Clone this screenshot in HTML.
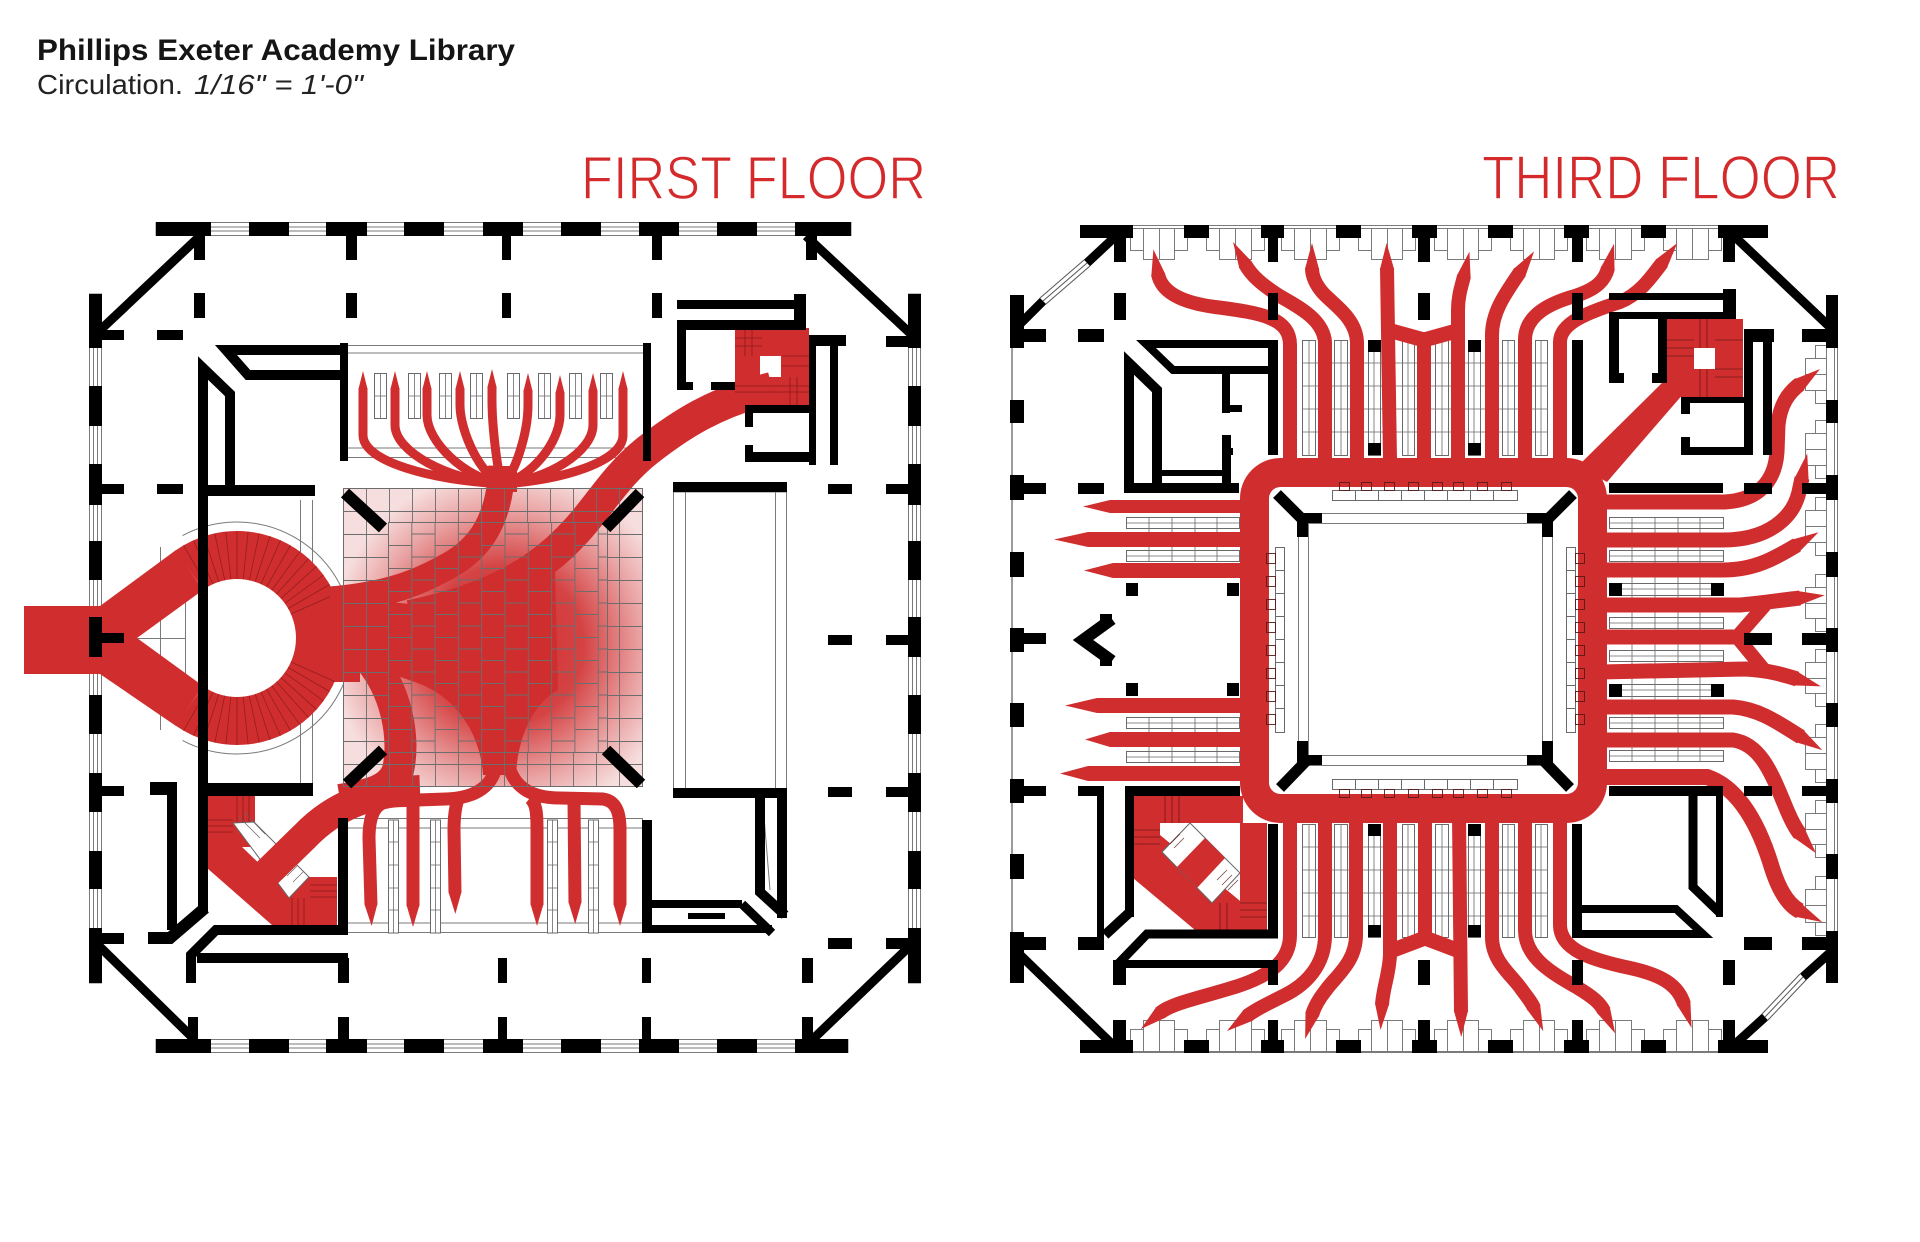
<!DOCTYPE html>
<html><head><meta charset="utf-8">
<style>html,body{margin:0;padding:0;background:#fff;}svg{display:block}</style>
</head><body>
<svg width="1920" height="1242" viewBox="0 0 1920 1242" xmlns="http://www.w3.org/2000/svg">
<defs>
<marker id="t14" markerUnits="userSpaceOnUse" viewBox="0 0 26 14" refX="1" refY="7" markerWidth="26" markerHeight="14" orient="auto"><path d="M0,0 L26,7 L0,14 Z" fill="#d02d2e"/></marker>
<marker id="t13" markerUnits="userSpaceOnUse" viewBox="0 0 22 13" refX="1" refY="6.5" markerWidth="22" markerHeight="13" orient="auto"><path d="M0,0 L22,6.5 L0,13 Z" fill="#d02d2e"/></marker>
<marker id="t9" markerUnits="userSpaceOnUse" viewBox="0 0 18 9" refX="1" refY="4.5" markerWidth="18" markerHeight="9" orient="auto"><path d="M0,0 L18,4.5 L0,9 Z" fill="#d02d2e"/></marker>
<radialGradient id="rg" cx="505" cy="645" r="175" gradientUnits="userSpaceOnUse">
<stop offset="0" stop-color="#d02d2e" stop-opacity="1"/>
<stop offset="0.45" stop-color="#d02d2e" stop-opacity="0.88"/>
<stop offset="0.78" stop-color="#d02d2e" stop-opacity="0.35"/>
<stop offset="1" stop-color="#d02d2e" stop-opacity="0.04"/>
</radialGradient>
<pattern id="grid" x="343" y="488" width="23" height="23" patternUnits="userSpaceOnUse"><path d="M0,0.5 H23 M0.5,0 V23" stroke="#6d6d6d" stroke-width="0.9" fill="none"/></pattern>
<pattern id="brick" x="388" y="522" width="46.6" height="23" patternUnits="userSpaceOnUse"><path d="M0.5,0 V23 M23.8,0 V23 M0,0.5 H23.3 M23.3,12 H46.6" stroke="#6d6d6d" stroke-width="0.9" fill="none"/></pattern>
<clipPath id="tileclip"><rect x="343" y="488" width="300" height="299"/></clipPath>
</defs>

<!-- TITLES -->
<text x="37" y="60" font-family="Liberation Sans, sans-serif" font-weight="bold" font-size="30" textLength="478" lengthAdjust="spacingAndGlyphs" fill="#151515">Phillips Exeter Academy Library</text>
<text x="37" y="94" font-family="Liberation Sans, sans-serif" font-size="28" textLength="146" lengthAdjust="spacingAndGlyphs" fill="#222">Circulation.</text>
<text x="194" y="94" font-family="Liberation Sans, sans-serif" font-style="italic" font-size="28" textLength="169" lengthAdjust="spacingAndGlyphs" fill="#222">1/16" = 1'-0"</text>
<text x="581" y="199" font-family="Liberation Sans, sans-serif" font-size="61" textLength="345" lengthAdjust="spacingAndGlyphs" fill="#d42a2c" stroke="#fff" stroke-width="1.4">FIRST FLOOR</text>
<text x="1482" y="199" font-family="Liberation Sans, sans-serif" font-size="62" textLength="358" lengthAdjust="spacingAndGlyphs" fill="#d42a2c" stroke="#fff" stroke-width="1.4">THIRD FLOOR</text>

<!-- ================= FIRST FLOOR ================= -->
<g id="ff-thin" fill="none" stroke="#7a7a7a" stroke-width="1">
  <rect x="156" y="222.5" width="695" height="13"/>
  <line x1="156" y1="227" x2="851" y2="227"/><line x1="156" y1="231" x2="851" y2="231"/>
  <rect x="156" y="1039.5" width="692" height="13"/>
  <line x1="156" y1="1044" x2="848" y2="1044"/><line x1="156" y1="1048" x2="848" y2="1048"/>
  <rect x="89.5" y="294" width="12" height="689"/>
  <line x1="93.5" y1="294" x2="93.5" y2="983"/><line x1="97.5" y1="294" x2="97.5" y2="983"/>
  <rect x="908.5" y="294" width="12" height="689"/>
  <line x1="912.5" y1="294" x2="912.5" y2="983"/><line x1="916.5" y1="294" x2="916.5" y2="983"/>
  <rect x="343.5" y="345.5" width="306" height="112"/>
  <line x1="343" y1="353" x2="650" y2="353"/><line x1="343" y1="448" x2="650" y2="448"/>
  <rect x="343.5" y="818.5" width="299" height="114"/>
  <line x1="343" y1="828" x2="642" y2="828"/><line x1="343" y1="923" x2="642" y2="923"/>
  <rect x="673.5" y="492" width="113" height="297"/>
  <line x1="685.5" y1="492" x2="685.5" y2="789"/><line x1="775.5" y1="492" x2="775.5" y2="789"/>
  <path d="M182.5,535.6 A116,116 0 1 1 182.5,740.4"/>
  <line x1="160.5" y1="547" x2="160.5" y2="730"/>
  <line x1="185.5" y1="590" x2="185.5" y2="688"/>
  <line x1="137" y1="638.5" x2="186" y2="638.5"/>
  <line x1="300.5" y1="500" x2="300.5" y2="783"/>
  <line x1="312.5" y1="500" x2="312.5" y2="783"/>
  <line x1="762.5" y1="798" x2="770" y2="890"/>
</g>
<g fill="#fff" stroke="#6a6a6a" stroke-width="1">
  <rect x="374.5" y="373.5" width="12" height="45"/><rect x="408.5" y="373.5" width="12" height="45"/>
  <rect x="439.5" y="373.5" width="12" height="45"/><rect x="470.5" y="373.5" width="12" height="45"/>
  <rect x="507.5" y="373.5" width="12" height="45"/><rect x="538.5" y="373.5" width="12" height="45"/>
  <rect x="569.5" y="373.5" width="12" height="45"/><rect x="600.5" y="373.5" width="12" height="45"/>
</g>
<g stroke="#6a6a6a" stroke-width="0.8">
  <path d="M380.5,374V418M414.5,374V418M445.5,374V418M476.5,374V418M513.5,374V418M544.5,374V418M575.5,374V418M606.5,374V418M374,396H387M408,396H421M439,396H452M470,396H483M507,396H520M538,396H551M569,396H582M600,396H613"/>
</g>
<g fill="#fff" stroke="#6a6a6a" stroke-width="1">
  <rect x="388.5" y="820" width="10" height="113"/><rect x="430.5" y="820" width="10" height="113"/>
  <rect x="547.5" y="820" width="10" height="113"/><rect x="588.5" y="820" width="10" height="113"/>
</g>
<g stroke="#6a6a6a" stroke-width="0.8">
  <path d="M393.5,820V933M435.5,820V933M552.5,820V933M593.5,820V933M388,842H399M388,865H399M388,888H399M388,910H399M430,842H441M430,865H441M430,888H441M430,910H441M547,842H558M547,865H558M547,888H558M547,910H558M588,842H599M588,865H599M588,888H599M588,910H599"/>
</g>

<!-- tile area base -->
<rect x="343" y="488" width="300" height="299" fill="#f8e5e5"/>
<rect x="343" y="488" width="300" height="299" fill="url(#rg)" clip-path="url(#tileclip)"/>

<!-- red: first floor -->
<g fill="#d02d2e">
  <polygon points="24,606 100,606 176,550 203,590 137,638 203,686 176,726 100,674 24,674"/>
  <path d="M330,596 L410,604 C470,600 520,585 555,572 L558,690 C534,703 518,735 516,775 L483,775 C481,740 462,703 425,686 C405,678 385,672 368,668 L330,684 Z"/>
  <rect x="320" y="598" width="40" height="84"/>
  <rect x="735" y="328" width="74" height="77"/>
  <rect x="207" y="796" width="48" height="51"/>
  <polygon points="207,845 240,845 302,905 302,925 272,925 207,868"/>
  <rect x="287" y="877" width="50" height="48"/>
</g>
<path d="M189.4,570 A83,83 0 1 1 189.4,706" fill="none" stroke="#d02d2e" stroke-width="48"/>
<g transform="translate(237,638)" stroke="#7a1818" stroke-width="0.8" stroke-opacity="0.7">
  <line x1="59" y1="0" x2="107" y2="0" transform="rotate(-120)"/><line x1="59" y1="0" x2="107" y2="0" transform="rotate(-114)"/>
  <line x1="59" y1="0" x2="107" y2="0" transform="rotate(-108)"/><line x1="59" y1="0" x2="107" y2="0" transform="rotate(-102)"/>
  <line x1="59" y1="0" x2="107" y2="0" transform="rotate(-96)"/><line x1="59" y1="0" x2="107" y2="0" transform="rotate(-90)"/>
  <line x1="59" y1="0" x2="107" y2="0" transform="rotate(-84)"/><line x1="59" y1="0" x2="107" y2="0" transform="rotate(-78)"/>
  <line x1="59" y1="0" x2="107" y2="0" transform="rotate(-72)"/><line x1="59" y1="0" x2="107" y2="0" transform="rotate(-66)"/>
  <line x1="59" y1="0" x2="107" y2="0" transform="rotate(-60)"/><line x1="59" y1="0" x2="107" y2="0" transform="rotate(-54)"/>
  <line x1="59" y1="0" x2="107" y2="0" transform="rotate(-48)"/><line x1="59" y1="0" x2="107" y2="0" transform="rotate(-42)"/>
  <line x1="59" y1="0" x2="107" y2="0" transform="rotate(-36)"/><line x1="59" y1="0" x2="107" y2="0" transform="rotate(-30)"/>
  <line x1="59" y1="0" x2="107" y2="0" transform="rotate(-24)"/><line x1="59" y1="0" x2="107" y2="0" transform="rotate(24)"/>
  <line x1="59" y1="0" x2="107" y2="0" transform="rotate(30)"/><line x1="59" y1="0" x2="107" y2="0" transform="rotate(36)"/>
  <line x1="59" y1="0" x2="107" y2="0" transform="rotate(42)"/><line x1="59" y1="0" x2="107" y2="0" transform="rotate(48)"/>
  <line x1="59" y1="0" x2="107" y2="0" transform="rotate(54)"/><line x1="59" y1="0" x2="107" y2="0" transform="rotate(60)"/>
  <line x1="59" y1="0" x2="107" y2="0" transform="rotate(66)"/><line x1="59" y1="0" x2="107" y2="0" transform="rotate(72)"/>
  <line x1="59" y1="0" x2="107" y2="0" transform="rotate(78)"/><line x1="59" y1="0" x2="107" y2="0" transform="rotate(84)"/>
  <line x1="59" y1="0" x2="107" y2="0" transform="rotate(90)"/><line x1="59" y1="0" x2="107" y2="0" transform="rotate(96)"/>
  <line x1="59" y1="0" x2="107" y2="0" transform="rotate(102)"/><line x1="59" y1="0" x2="107" y2="0" transform="rotate(108)"/>
  <line x1="59" y1="0" x2="107" y2="0" transform="rotate(114)"/><line x1="59" y1="0" x2="107" y2="0" transform="rotate(120)"/>
</g>
<polygon points="233,823 254,822 309,877 289,898" fill="#fff" stroke="#666" stroke-width="1"/>
<g stroke="#666" stroke-width="0.7"><path d="M239,817L260,838M244,812L265,834M287,876L297,866M293,882L303,872"/></g>
<rect x="760" y="356" width="21" height="21" fill="#fff"/>

<g fill="none" stroke="#d02d2e" stroke-linecap="butt">
  <path d="M502,466 C500,520 480,548 450,565 C420,582 390,595 330,600" stroke-width="27"/>
  <path d="M502,466 L502,492" stroke-width="30"/>
  <path d="M772,388 C715,402 680,425 648,450 C615,476 598,508 575,532 C545,565 500,598 410,616" stroke-width="32"/>
  <path d="M366,655 C398,690 405,740 398,770 C392,790 370,795 340,800" stroke-width="32"/>
  <path d="M420,790 C370,792 335,805 305,836 L260,880" stroke-width="30"/>
  <path d="M502,484 C432,480 363,462 363,435 L363,388" stroke-width="9" marker-end="url(#t9)"/>
  <path d="M502,484 C448,480 395,452 395,425 L395,388" stroke-width="9" marker-end="url(#t9)"/>
  <path d="M502,484 C465,478 427,442 427,415 L427,388" stroke-width="9" marker-end="url(#t9)"/>
  <path d="M502,484 C481,476 460,432 460,405 L460,388" stroke-width="9" marker-end="url(#t9)"/>
  <path d="M502,484 C497,470 492,425 492,400 L492,386" stroke-width="9" marker-end="url(#t9)"/>
  <path d="M502,484 C515,476 528,432 528,405 L528,390" stroke-width="9" marker-end="url(#t9)"/>
  <path d="M502,484 C531,478 560,442 560,415 L560,392" stroke-width="9" marker-end="url(#t9)"/>
  <path d="M502,484 C547,480 593,452 593,425 L593,390" stroke-width="9" marker-end="url(#t9)"/>
  <path d="M502,484 C562,480 623,462 623,435 L623,388" stroke-width="9" marker-end="url(#t9)"/>
  <path d="M497,760 C495,786 476,798 446,799 L390,801 C376,802 369,814 369,838 L371,905" stroke-width="13" marker-end="url(#t13)"/>
  <path d="M413,800 L413,906" stroke-width="13" marker-end="url(#t13)"/>
  <path d="M458,799 C455,808 454,818 454,830 L455,893" stroke-width="13" marker-end="url(#t13)"/>
  <path d="M508,760 C511,786 530,798 560,798 L603,799 C616,801 620,812 620,830 L620,905" stroke-width="13" marker-end="url(#t13)"/>
  <path d="M530,798 C536,803 537,812 537,828 L537,905" stroke-width="13" marker-end="url(#t13)"/>
  <path d="M574,799 L575,903" stroke-width="13" marker-end="url(#t13)"/>
</g>
<g clip-path="url(#tileclip)">
  <rect x="343" y="488" width="300" height="34" fill="url(#grid)"/>
  <rect x="343" y="753" width="300" height="34" fill="url(#grid)"/>
  <rect x="343" y="522" width="45" height="231" fill="url(#grid)"/>
  <rect x="608" y="522" width="35" height="231" fill="url(#grid)"/>
  <rect x="388" y="522" width="220" height="231" fill="url(#brick)"/>
  <rect x="343.5" y="488.5" width="299" height="298" fill="none" stroke="#6d6d6d"/>
  <rect x="388.5" y="522.5" width="219" height="230" fill="none" stroke="#6d6d6d"/>
</g>
<g stroke="#7a1818" stroke-width="0.8" stroke-opacity="0.8">
  <path d="M735,338H762M735,346H762M735,386H809M735,392H809M782,356H809M782,366H809M745,328V356M752,328V356M790,377V405M797,377V405"/>
  <path d="M207,820H233M207,826H233M207,832H233M237,796V822M243,796V822M249,796V822M292,898V925M298,898V925M304,898V925M310,885H337M310,891H337M310,897H337"/>
</g>

<g fill="#000">
  <rect x="156" y="222" width="55" height="14"/><rect x="249" y="222" width="40" height="14"/><rect x="326" y="222" width="41" height="14"/>
  <rect x="404" y="222" width="40" height="14"/><rect x="483" y="222" width="40" height="14"/><rect x="561" y="222" width="40" height="14"/>
  <rect x="639" y="222" width="40" height="14"/><rect x="717" y="222" width="40" height="14"/><rect x="795" y="222" width="56" height="14"/>
  <rect x="156" y="1039" width="55" height="14"/><rect x="249" y="1039" width="40" height="14"/><rect x="326" y="1039" width="41" height="14"/>
  <rect x="404" y="1039" width="40" height="14"/><rect x="483" y="1039" width="40" height="14"/><rect x="561" y="1039" width="40" height="14"/>
  <rect x="639" y="1039" width="40" height="14"/><rect x="717" y="1039" width="40" height="14"/><rect x="795" y="1039" width="53" height="14"/>
  <rect x="89" y="294" width="13" height="54"/><rect x="89" y="386" width="13" height="40"/><rect x="89" y="464" width="13" height="41"/>
  <rect x="89" y="541" width="13" height="39"/><rect x="89" y="617" width="13" height="40"/><rect x="89" y="695" width="13" height="39"/>
  <rect x="89" y="773" width="13" height="39"/><rect x="89" y="851" width="13" height="38"/><rect x="89" y="928" width="13" height="55"/>
  <rect x="908" y="294" width="13" height="54"/><rect x="908" y="386" width="13" height="40"/><rect x="908" y="464" width="13" height="41"/>
  <rect x="908" y="541" width="13" height="39"/><rect x="908" y="617" width="13" height="40"/><rect x="908" y="695" width="13" height="39"/>
  <rect x="908" y="773" width="13" height="39"/><rect x="908" y="851" width="13" height="38"/><rect x="908" y="928" width="13" height="55"/>
  <rect x="194" y="236" width="11" height="24"/><rect x="346" y="236" width="11" height="24"/><rect x="502" y="236" width="9" height="24"/>
  <rect x="652" y="236" width="10" height="24"/><rect x="806" y="236" width="11" height="24"/>
  <rect x="194" y="293" width="11" height="25"/><rect x="346" y="293" width="11" height="25"/><rect x="502" y="293" width="9" height="25"/><rect x="652" y="293" width="10" height="25"/>
  <rect x="188" y="1017" width="10" height="22"/><rect x="338" y="1017" width="11" height="22"/><rect x="498" y="1017" width="9" height="22"/>
  <rect x="642" y="1017" width="9" height="22"/><rect x="802" y="1017" width="11" height="22"/>
  <rect x="338" y="958" width="11" height="25"/><rect x="498" y="958" width="9" height="25"/><rect x="642" y="958" width="9" height="25"/><rect x="802" y="958" width="11" height="25"/>
  <rect x="102" y="330" width="22" height="10"/><rect x="102" y="484" width="22" height="10"/><rect x="102" y="633" width="22" height="10"/>
  <rect x="102" y="786" width="22" height="10"/><rect x="102" y="933" width="22" height="11"/>
  <rect x="157" y="330" width="26" height="10"/><rect x="157" y="484" width="26" height="10"/>
  <rect x="886" y="336" width="22" height="11"/><rect x="886" y="484" width="22" height="10"/><rect x="886" y="635" width="22" height="10"/>
  <rect x="886" y="787" width="22" height="10"/><rect x="886" y="938" width="22" height="11"/>
  <rect x="828" y="484" width="24" height="10"/><rect x="828" y="635" width="24" height="10"/><rect x="828" y="787" width="24" height="10"/><rect x="828" y="938" width="24" height="11"/>
  <rect x="340" y="343" width="8" height="118"/><rect x="643" y="343" width="8" height="118"/>
  <rect x="200" y="485" width="115" height="11"/><rect x="200" y="783" width="113" height="13"/>
  <rect x="677" y="300" width="129" height="9"/><rect x="794" y="294" width="12" height="36"/><rect x="677" y="320" width="129" height="10"/>
  <rect x="677" y="320" width="9" height="70"/><rect x="677" y="382" width="16" height="8"/><rect x="711" y="382" width="24" height="8"/>
  <rect x="809" y="335" width="37" height="11"/><rect x="809" y="335" width="7" height="130"/><rect x="830" y="346" width="8" height="119"/>
  <rect x="745" y="405" width="64" height="8"/><rect x="745" y="405" width="8" height="22"/><rect x="745" y="452" width="68" height="10"/><rect x="745" y="445" width="8" height="17"/>
  <rect x="673" y="482" width="114" height="10"/><rect x="673" y="788" width="114" height="10"/><rect x="777" y="788" width="10" height="130"/>
  <rect x="642" y="820" width="10" height="113"/><rect x="652" y="900" width="90" height="8"/><rect x="642" y="925" width="130" height="8"/>
  <rect x="688" y="913" width="37" height="6"/>
  <rect x="338" y="818" width="10" height="115"/>
  <rect x="150" y="782" width="27" height="13"/><rect x="167" y="782" width="10" height="148"/>
  <rect x="197" y="953" width="151" height="10"/>
</g>
<g fill="none" stroke="#000" stroke-linecap="butt">
  <line x1="200" y1="236" x2="95" y2="335" stroke-width="9"/>
  <line x1="806" y1="236" x2="912" y2="335" stroke-width="9"/>
  <line x1="97" y1="944" x2="195" y2="1040" stroke-width="9"/>
  <line x1="912" y1="944" x2="812" y2="1040" stroke-width="9"/>
  <polyline points="347,350 226,350 248,375 342,375" stroke-width="10"/>
  <polyline points="203,913 203,368 230,394 230,488" stroke-width="10"/>
  <polyline points="760,798 760,892 785,915" stroke-width="10"/>
  <line x1="742" y1="904" x2="772" y2="933" stroke-width="9"/>
  <polyline points="148,938 170,938 205,908" stroke-width="12"/>
  <polyline points="191,983 191,955 216,930 348,930" stroke-width="10"/>
  <line x1="345" y1="493" x2="383" y2="528" stroke-width="12"/>
  <line x1="640" y1="493" x2="606" y2="528" stroke-width="12"/>
  <line x1="383" y1="750" x2="347" y2="784" stroke-width="12"/>
  <line x1="606" y1="750" x2="641" y2="784" stroke-width="12"/>
</g>

<!-- ================= THIRD FLOOR ================= -->
<g fill="none" stroke="#7a7a7a" stroke-width="1">
  <line x1="1080" y1="225.5" x2="1768" y2="225.5"/><line x1="1080" y1="228.5" x2="1768" y2="228.5"/>
  <line x1="1080" y1="1049.5" x2="1768" y2="1049.5"/><line x1="1080" y1="1052.5" x2="1768" y2="1052.5"/>
  <line x1="1012" y1="295" x2="1012" y2="983" stroke-width="1.5"/>
  <line x1="1837.5" y1="295" x2="1837.5" y2="983"/><line x1="1834.5" y1="295" x2="1834.5" y2="983"/>
</g>
<g fill="#fff" stroke="#7a7a7a" stroke-width="1">
  <rect x="1130.5" y="228.5" width="13" height="22"/><rect x="1143.5" y="228.5" width="16" height="31"/><rect x="1159.5" y="228.5" width="15" height="31"/><rect x="1174.5" y="228.5" width="13" height="22"/>
  <rect x="1206.5" y="228.5" width="13" height="22"/><rect x="1219.5" y="228.5" width="16" height="31"/><rect x="1235.5" y="228.5" width="16" height="31"/><rect x="1251.5" y="228.5" width="13" height="22"/>
  <rect x="1281.5" y="228.5" width="13" height="22"/><rect x="1294.5" y="228.5" width="16" height="31"/><rect x="1310.5" y="228.5" width="16" height="31"/><rect x="1326.5" y="228.5" width="13" height="22"/>
  <rect x="1358.5" y="228.5" width="13" height="22"/><rect x="1371.5" y="228.5" width="16" height="31"/><rect x="1387.5" y="228.5" width="15" height="31"/><rect x="1402.5" y="228.5" width="13" height="22"/>
  <rect x="1434.5" y="228.5" width="13" height="22"/><rect x="1447.5" y="228.5" width="16" height="31"/><rect x="1463.5" y="228.5" width="15" height="31"/><rect x="1478.5" y="228.5" width="13" height="22"/>
  <rect x="1510.5" y="228.5" width="13" height="22"/><rect x="1523.5" y="228.5" width="16" height="31"/><rect x="1539.5" y="228.5" width="15" height="31"/><rect x="1554.5" y="228.5" width="13" height="22"/>
  <rect x="1586.5" y="228.5" width="13" height="22"/><rect x="1599.5" y="228.5" width="16" height="31"/><rect x="1615.5" y="228.5" width="16" height="31"/><rect x="1631.5" y="228.5" width="13" height="22"/>
  <rect x="1663.5" y="228.5" width="13" height="22"/><rect x="1676.5" y="228.5" width="16" height="31"/><rect x="1692.5" y="228.5" width="16" height="31"/><rect x="1708.5" y="228.5" width="13" height="22"/>
  <rect x="1130.5" y="1029.5" width="13" height="22"/><rect x="1143.5" y="1020.5" width="16" height="31"/><rect x="1159.5" y="1020.5" width="15" height="31"/><rect x="1174.5" y="1029.5" width="13" height="22"/>
  <rect x="1206.5" y="1029.5" width="13" height="22"/><rect x="1219.5" y="1020.5" width="16" height="31"/><rect x="1235.5" y="1020.5" width="16" height="31"/><rect x="1251.5" y="1029.5" width="13" height="22"/>
  <rect x="1281.5" y="1029.5" width="13" height="22"/><rect x="1294.5" y="1020.5" width="16" height="31"/><rect x="1310.5" y="1020.5" width="16" height="31"/><rect x="1326.5" y="1029.5" width="13" height="22"/>
  <rect x="1358.5" y="1029.5" width="13" height="22"/><rect x="1371.5" y="1020.5" width="16" height="31"/><rect x="1387.5" y="1020.5" width="15" height="31"/><rect x="1402.5" y="1029.5" width="13" height="22"/>
  <rect x="1434.5" y="1029.5" width="13" height="22"/><rect x="1447.5" y="1020.5" width="16" height="31"/><rect x="1463.5" y="1020.5" width="15" height="31"/><rect x="1478.5" y="1029.5" width="13" height="22"/>
  <rect x="1510.5" y="1029.5" width="13" height="22"/><rect x="1523.5" y="1020.5" width="16" height="31"/><rect x="1539.5" y="1020.5" width="15" height="31"/><rect x="1554.5" y="1029.5" width="13" height="22"/>
  <rect x="1586.5" y="1029.5" width="13" height="22"/><rect x="1599.5" y="1020.5" width="16" height="31"/><rect x="1615.5" y="1020.5" width="16" height="31"/><rect x="1631.5" y="1029.5" width="13" height="22"/>
  <rect x="1663.5" y="1029.5" width="13" height="22"/><rect x="1676.5" y="1020.5" width="16" height="31"/><rect x="1692.5" y="1020.5" width="16" height="31"/><rect x="1708.5" y="1029.5" width="13" height="22"/>
  <rect x="1815.5" y="345.5" width="11" height="13"/><rect x="1805.5" y="358.5" width="21" height="16"/><rect x="1805.5" y="374.5" width="21" height="16"/><rect x="1815.5" y="390.5" width="11" height="13"/>
  <rect x="1815.5" y="420.5" width="11" height="13"/><rect x="1805.5" y="433.5" width="21" height="16"/><rect x="1805.5" y="449.5" width="21" height="16"/><rect x="1815.5" y="465.5" width="11" height="13"/>
  <rect x="1815.5" y="497.5" width="11" height="13"/><rect x="1805.5" y="510.5" width="21" height="16"/><rect x="1805.5" y="526.5" width="21" height="16"/><rect x="1815.5" y="542.5" width="11" height="13"/>
  <rect x="1815.5" y="574.5" width="11" height="13"/><rect x="1805.5" y="587.5" width="21" height="16"/><rect x="1805.5" y="603.5" width="21" height="15"/><rect x="1815.5" y="618.5" width="11" height="13"/>
  <rect x="1815.5" y="649.5" width="11" height="13"/><rect x="1805.5" y="662.5" width="21" height="16"/><rect x="1805.5" y="678.5" width="21" height="15"/><rect x="1815.5" y="693.5" width="11" height="13"/>
  <rect x="1815.5" y="724.5" width="11" height="13"/><rect x="1805.5" y="737.5" width="21" height="16"/><rect x="1805.5" y="753.5" width="21" height="16"/><rect x="1815.5" y="769.5" width="11" height="13"/>
  <rect x="1815.5" y="800.5" width="11" height="13"/><rect x="1805.5" y="813.5" width="21" height="16"/><rect x="1805.5" y="829.5" width="21" height="15"/><rect x="1815.5" y="844.5" width="11" height="13"/>
  <rect x="1815.5" y="876.5" width="11" height="13"/><rect x="1805.5" y="889.5" width="21" height="16"/><rect x="1805.5" y="905.5" width="21" height="17"/><rect x="1815.5" y="922.5" width="11" height="13"/>
</g>
<g fill="none" stroke="#7a7a7a" stroke-width="1">
  <rect x="1298.5" y="513.5" width="254" height="252"/>
  <rect x="1308.5" y="523.5" width="234" height="232"/>
</g>
<g fill="#fff" stroke="#6a6a6a" stroke-width="1">
  <rect x="1302.5" y="340.5" width="13" height="115"/><rect x="1334.5" y="340.5" width="13" height="115"/><rect x="1368.5" y="340.5" width="12" height="115"/>
  <rect x="1402.5" y="340.5" width="12" height="115"/><rect x="1435.5" y="340.5" width="13" height="115"/><rect x="1468.5" y="340.5" width="12" height="115"/>
  <rect x="1502.5" y="340.5" width="12" height="115"/><rect x="1535.5" y="340.5" width="12" height="115"/>
  <rect x="1302.5" y="824.5" width="13" height="113"/><rect x="1334.5" y="824.5" width="13" height="113"/><rect x="1368.5" y="824.5" width="12" height="113"/>
  <rect x="1402.5" y="824.5" width="12" height="113"/><rect x="1435.5" y="824.5" width="13" height="113"/><rect x="1468.5" y="824.5" width="12" height="113"/>
  <rect x="1502.5" y="824.5" width="12" height="113"/><rect x="1535.5" y="824.5" width="12" height="113"/>
  <rect x="1126.5" y="517.5" width="113" height="11"/><rect x="1126.5" y="550.5" width="113" height="11"/>
  <rect x="1126.5" y="717.5" width="113" height="11"/><rect x="1126.5" y="751.5" width="113" height="11"/>
  <rect x="1609.5" y="517.5" width="114" height="11"/><rect x="1609.5" y="550.5" width="114" height="11"/><rect x="1609.5" y="583.5" width="114" height="12"/>
  <rect x="1609.5" y="617.5" width="114" height="11"/><rect x="1609.5" y="650.5" width="114" height="11"/><rect x="1609.5" y="684.5" width="114" height="12"/>
  <rect x="1609.5" y="717.5" width="114" height="11"/><rect x="1609.5" y="750.5" width="114" height="11"/>
</g>
<g stroke="#6a6a6a" stroke-width="0.8">
  <path d="M1309,341V455M1341,341V455M1374,341V455M1408,341V455M1442,341V455M1474,341V455M1508,341V455M1541,341V455"/>
  <path d="M1302,363H1548M1302,386H1548M1302,409H1548M1302,432H1548"/>
  <path d="M1309,825V937M1341,825V937M1374,825V937M1408,825V937M1442,825V937M1474,825V937M1508,825V937M1541,825V937"/>
  <path d="M1302,847H1548M1302,870H1548M1302,893H1548M1302,916H1548"/>
  <path d="M1149,517V562M1172,517V562M1195,517V562M1217,517V562M1127,523H1239M1127,556H1239"/>
  <path d="M1149,717V762M1172,717V762M1195,717V762M1217,717V762M1127,723H1239M1127,757H1239"/>
  <path d="M1632,517V762M1655,517V762M1678,517V762M1700,517V762M1610,523H1723M1610,556H1723M1610,589H1723M1610,623H1723M1610,656H1723M1610,690H1723M1610,723H1723M1610,756H1723"/>
</g>

<g fill="#d02d2e">
  <rect x="1133" y="796" width="110" height="27"/>
  <rect x="1133" y="796" width="27" height="71"/>
  <polygon points="1133,845 1160,835 1245,905 1215,930 1195,930 1133,878"/>
  <rect x="1240" y="823" width="27" height="107"/>
  <rect x="1210" y="903" width="57" height="27"/>
  <rect x="1667" y="319" width="76" height="78"/>
  <polygon points="1667,378 1697,378 1607,482 1578,466"/>
  <polygon points="1242,500 1110,500 1083,506.5 1110,513 1242,513"/>
  <polygon points="1242,532 1088,532 1054,539.5 1088,547 1242,547"/>
  <polygon points="1242,563 1113,563 1084,570.5 1113,578 1242,578"/>
  <polygon points="1242,698 1097,698 1065,705.5 1097,713 1242,713"/>
  <polygon points="1242,732 1110,732 1085,739.5 1110,747 1242,747"/>
  <polygon points="1242,766 1088,766 1060,773.5 1088,781 1242,781"/>
</g>
<rect x="1254.5" y="472.5" width="338" height="336" rx="26" fill="none" stroke="#d02d2e" stroke-width="29"/>
<polygon points="1162,852 1190,823 1240,873 1212,903" fill="#fff" stroke="#666" stroke-width="1"/>
<polygon points="1177,867 1205,838 1225,858 1197,888" fill="#d02d2e"/>
<rect x="1694" y="348" width="21" height="21" fill="#fff"/>
<g stroke="#5a1414" stroke-width="0.8" stroke-opacity="0.8">
  <path d="M1170,844L1180,834M1174,848L1184,838M1217,880L1227,870M1222,885L1232,875M1228,890L1238,880"/>
  <path d="M1133,830H1160M1133,837H1160M1133,844H1160M1165,796V823M1172,796V823M1179,796V823M1240,903H1267M1240,910H1267M1240,917H1267M1220,903V930M1227,903V930"/>
  <path d="M1667,340H1694M1667,348H1694M1667,356H1694M1715,369H1743M1715,377H1743M1715,340H1743M1700,319V348M1707,319V348M1700,369V397M1707,369V397"/>
</g>
<g fill="none" stroke="#d02d2e" stroke-linecap="butt">
  <path d="M1290,460 L1290,345 C1290,318 1262,313 1215,307 C1177,302 1161,290 1158,274" stroke-width="14" marker-end="url(#t14)"/>
  <path d="M1325,460 L1325,342 C1323,318 1296,306 1278,295 C1261,284 1251,275 1245,264" stroke-width="14" marker-end="url(#t14)"/>
  <path d="M1357,460 L1357,342 C1356,318 1334,305 1323,293 C1316,285 1312,277 1312,268" stroke-width="14" marker-end="url(#t14)"/>
  <path d="M1390,460 L1387,268" stroke-width="14" marker-end="url(#t14)"/>
  <path d="M1424,460 L1424,332" stroke-width="14"/>
  <polyline points="1388,330 1424,340 1460,330" stroke-width="15"/>
  <path d="M1458,460 L1458,310 C1458,295 1462,285 1464,276" stroke-width="14" marker-end="url(#t14)"/>
  <path d="M1492,460 L1492,335 C1492,312 1505,294 1520,272" stroke-width="14" marker-end="url(#t14)"/>
  <path d="M1525,460 L1525,340 C1525,315 1550,303 1575,296 C1597,289 1605,280 1608,268" stroke-width="14" marker-end="url(#t14)"/>
  <path d="M1560,460 L1560,342 C1560,322 1590,312 1620,302 C1640,294 1652,276 1662,263" stroke-width="14" marker-end="url(#t14)"/>
  <path d="M1600,502 L1725,502 C1758,500 1775,482 1777,452 L1778,425 C1780,405 1788,393 1800,384" stroke-width="15" marker-end="url(#t14)"/>
  <path d="M1600,540 L1723,540 C1768,540 1793,518 1799,492 L1802,478" stroke-width="15" marker-end="url(#t14)"/>
  <path d="M1600,570 L1723,570 C1755,570 1775,558 1797,545" stroke-width="15" marker-end="url(#t14)"/>
  <path d="M1600,605 L1740,605 C1762,603 1782,600 1800,598" stroke-width="15" marker-end="url(#t14)"/>
  <path d="M1600,637 L1738,637" stroke-width="15"/>
  <polyline points="1765,605 1737,637 1765,671" stroke-width="14"/>
  <path d="M1600,672 L1745,669 C1768,670 1784,675 1797,679" stroke-width="15" marker-end="url(#t14)"/>
  <path d="M1600,707 L1733,707 C1760,709 1780,724 1801,737" stroke-width="15" marker-end="url(#t14)"/>
  <path d="M1600,740 L1733,740 C1760,744 1771,772 1784,803 C1790,818 1795,828 1800,834" stroke-width="15" marker-end="url(#t14)"/>
  <path d="M1600,777 L1707,777 C1740,788 1760,828 1772,868 C1779,890 1788,905 1800,911" stroke-width="16" marker-end="url(#t14)"/>
  <path d="M1290,815 L1290,935 C1290,962 1268,976 1238,986 C1200,998 1172,1003 1160,1013" stroke-width="14" marker-end="url(#t14)"/>
  <path d="M1325,815 L1325,935 C1325,966 1305,985 1285,995 C1265,1005 1255,1010 1247,1016" stroke-width="14" marker-end="url(#t14)"/>
  <path d="M1356,815 L1356,935 C1356,962 1336,976 1326,990 C1318,1000 1314,1008 1312,1015" stroke-width="14" marker-end="url(#t14)"/>
  <path d="M1390,815 L1390,955 C1389,975 1383,988 1382,1005" stroke-width="14" marker-end="url(#t14)"/>
  <path d="M1425,815 L1425,945" stroke-width="14"/>
  <polyline points="1388,952 1425,938 1462,952" stroke-width="15"/>
  <path d="M1459,815 L1461,1012" stroke-width="14" marker-end="url(#t14)"/>
  <path d="M1492,815 L1492,937 C1492,962 1512,975 1522,990 C1528,998 1532,1003 1534,1008" stroke-width="14" marker-end="url(#t14)"/>
  <path d="M1525,815 L1525,930 C1525,958 1552,973 1578,988 C1593,997 1600,1003 1604,1011" stroke-width="14" marker-end="url(#t14)"/>
  <path d="M1560,815 L1560,925 C1560,950 1592,960 1630,968 C1662,975 1678,985 1684,1004" stroke-width="14" marker-end="url(#t14)"/>
</g>
<g fill="#fff" stroke="#6a6a6a" stroke-width="1">
  <rect x="1332.5" y="490.5" width="23" height="10"/><rect x="1355.5" y="490.5" width="23" height="10"/><rect x="1378.5" y="490.5" width="23" height="10"/><rect x="1401.5" y="490.5" width="23" height="10"/>
  <rect x="1424.5" y="490.5" width="23" height="10"/><rect x="1447.5" y="490.5" width="23" height="10"/><rect x="1470.5" y="490.5" width="23" height="10"/><rect x="1493.5" y="490.5" width="24" height="10"/>
  <rect x="1332.5" y="779.5" width="23" height="10"/><rect x="1355.5" y="779.5" width="23" height="10"/><rect x="1378.5" y="779.5" width="23" height="10"/><rect x="1401.5" y="779.5" width="23" height="10"/>
  <rect x="1424.5" y="779.5" width="23" height="10"/><rect x="1447.5" y="779.5" width="23" height="10"/><rect x="1470.5" y="779.5" width="23" height="10"/><rect x="1493.5" y="779.5" width="24" height="10"/>
  <rect x="1275.5" y="547.5" width="9" height="23"/><rect x="1275.5" y="570.5" width="9" height="23"/><rect x="1275.5" y="593.5" width="9" height="23"/><rect x="1275.5" y="616.5" width="9" height="23"/>
  <rect x="1275.5" y="639.5" width="9" height="23"/><rect x="1275.5" y="662.5" width="9" height="23"/><rect x="1275.5" y="685.5" width="9" height="23"/><rect x="1275.5" y="708.5" width="9" height="24"/>
  <rect x="1566.5" y="547.5" width="9" height="23"/><rect x="1566.5" y="570.5" width="9" height="23"/><rect x="1566.5" y="593.5" width="9" height="23"/><rect x="1566.5" y="616.5" width="9" height="23"/>
  <rect x="1566.5" y="639.5" width="9" height="23"/><rect x="1566.5" y="662.5" width="9" height="23"/><rect x="1566.5" y="685.5" width="9" height="23"/><rect x="1566.5" y="708.5" width="9" height="24"/>
</g>
<g fill="none" stroke="#5a1a1a" stroke-width="0.9">
  <rect x="1339.5" y="482.5" width="10" height="8"/><rect x="1361.5" y="482.5" width="10" height="8"/><rect x="1384.5" y="482.5" width="10" height="8"/><rect x="1408.5" y="482.5" width="10" height="8"/>
  <rect x="1432.5" y="482.5" width="10" height="8"/><rect x="1453.5" y="482.5" width="10" height="8"/><rect x="1477.5" y="482.5" width="10" height="8"/><rect x="1501.5" y="482.5" width="10" height="8"/>
  <rect x="1339.5" y="789.5" width="10" height="8"/><rect x="1361.5" y="789.5" width="10" height="8"/><rect x="1384.5" y="789.5" width="10" height="8"/><rect x="1408.5" y="789.5" width="10" height="8"/>
  <rect x="1432.5" y="789.5" width="10" height="8"/><rect x="1453.5" y="789.5" width="10" height="8"/><rect x="1477.5" y="789.5" width="10" height="8"/><rect x="1501.5" y="789.5" width="10" height="8"/>
  <rect x="1266.5" y="553.5" width="9" height="10"/><rect x="1266.5" y="576.5" width="9" height="10"/><rect x="1266.5" y="599.5" width="9" height="10"/><rect x="1266.5" y="622.5" width="9" height="10"/>
  <rect x="1266.5" y="645.5" width="9" height="10"/><rect x="1266.5" y="668.5" width="9" height="10"/><rect x="1266.5" y="691.5" width="9" height="10"/><rect x="1266.5" y="714.5" width="9" height="10"/>
  <rect x="1575.5" y="553.5" width="9" height="10"/><rect x="1575.5" y="576.5" width="9" height="10"/><rect x="1575.5" y="599.5" width="9" height="10"/><rect x="1575.5" y="622.5" width="9" height="10"/>
  <rect x="1575.5" y="645.5" width="9" height="10"/><rect x="1575.5" y="668.5" width="9" height="10"/><rect x="1575.5" y="691.5" width="9" height="10"/><rect x="1575.5" y="714.5" width="9" height="10"/>
</g>

<g fill="#000">
  <rect x="1080" y="225" width="53" height="13"/><rect x="1184" y="225" width="25" height="13"/><rect x="1261" y="225" width="23" height="13"/>
  <rect x="1336" y="225" width="25" height="13"/><rect x="1412" y="225" width="25" height="13"/><rect x="1488" y="225" width="25" height="13"/>
  <rect x="1564" y="225" width="25" height="13"/><rect x="1641" y="225" width="25" height="13"/><rect x="1718" y="225" width="50" height="13"/>
  <rect x="1080" y="1040" width="53" height="13"/><rect x="1184" y="1040" width="25" height="13"/><rect x="1261" y="1040" width="23" height="13"/>
  <rect x="1336" y="1040" width="25" height="13"/><rect x="1412" y="1040" width="25" height="13"/><rect x="1488" y="1040" width="25" height="13"/>
  <rect x="1564" y="1040" width="25" height="13"/><rect x="1641" y="1040" width="25" height="13"/><rect x="1718" y="1040" width="50" height="13"/>
  <rect x="1010" y="295" width="14" height="53"/><rect x="1010" y="400" width="14" height="23"/><rect x="1010" y="475" width="14" height="25"/>
  <rect x="1010" y="552" width="14" height="25"/><rect x="1010" y="628" width="14" height="24"/><rect x="1010" y="703" width="14" height="24"/>
  <rect x="1010" y="779" width="14" height="24"/><rect x="1010" y="854" width="14" height="25"/><rect x="1010" y="932" width="14" height="51"/>
  <rect x="1826" y="295" width="12" height="53"/><rect x="1826" y="400" width="12" height="23"/><rect x="1826" y="475" width="12" height="25"/>
  <rect x="1826" y="552" width="12" height="25"/><rect x="1826" y="628" width="12" height="24"/><rect x="1826" y="703" width="12" height="24"/>
  <rect x="1826" y="779" width="12" height="24"/><rect x="1826" y="854" width="12" height="25"/><rect x="1826" y="931" width="12" height="52"/>
  <rect x="1114" y="238" width="12" height="24"/><rect x="1268" y="238" width="10" height="24"/><rect x="1418" y="238" width="12" height="24"/>
  <rect x="1572" y="238" width="11" height="24"/><rect x="1723" y="238" width="12" height="24"/>
  <rect x="1113" y="1020" width="13" height="20"/><rect x="1268" y="1020" width="10" height="20"/><rect x="1418" y="1020" width="12" height="20"/>
  <rect x="1572" y="1020" width="11" height="20"/><rect x="1723" y="1020" width="12" height="20"/>
  <rect x="1114" y="293" width="12" height="27"/><rect x="1268" y="293" width="10" height="27"/><rect x="1418" y="293" width="12" height="27"/><rect x="1572" y="293" width="11" height="27"/>
  <rect x="1113" y="960" width="13" height="25"/><rect x="1268" y="960" width="10" height="25"/><rect x="1418" y="960" width="12" height="25"/>
  <rect x="1572" y="960" width="11" height="25"/><rect x="1723" y="960" width="12" height="25"/>
  <rect x="1024" y="329" width="22" height="13"/><rect x="1024" y="483" width="22" height="11"/><rect x="1024" y="633" width="22" height="11"/>
  <rect x="1024" y="786" width="22" height="10"/><rect x="1024" y="937" width="22" height="13"/>
  <rect x="1078" y="329" width="26" height="13"/><rect x="1078" y="483" width="26" height="11"/>
  <rect x="1802" y="329" width="24" height="13"/><rect x="1802" y="483" width="24" height="11"/><rect x="1802" y="633" width="24" height="12"/>
  <rect x="1802" y="786" width="24" height="10"/><rect x="1802" y="937" width="24" height="13"/>
  <rect x="1744" y="483" width="28" height="11"/><rect x="1744" y="633" width="28" height="12"/><rect x="1744" y="786" width="28" height="10"/><rect x="1744" y="937" width="28" height="13"/>
  <rect x="1268" y="340" width="10" height="115"/><rect x="1124" y="483" width="115" height="10"/>
  <rect x="1161" y="470" width="61" height="6"/><rect x="1222" y="373" width="8" height="40"/><rect x="1222" y="405" width="20" height="7"/>
  <rect x="1222" y="435" width="9" height="50"/><rect x="1229" y="448" width="4" height="7"/>
  <rect x="1126" y="583" width="12" height="13"/><rect x="1227" y="583" width="12" height="13"/>
  <rect x="1126" y="683" width="12" height="13"/><rect x="1227" y="683" width="12" height="13"/>
  <rect x="1100" y="614" width="12" height="12"/><rect x="1100" y="654" width="12" height="12"/>
  <rect x="1078" y="786" width="26" height="10"/><rect x="1097" y="786" width="7" height="151"/><rect x="1078" y="937" width="26" height="13"/>
  <rect x="1125" y="786" width="115" height="10"/><rect x="1125" y="786" width="9" height="131"/>
  <rect x="1115" y="960" width="163" height="8"/><rect x="1268" y="824" width="10" height="114"/>
  <rect x="1609" y="483" width="114" height="10"/><rect x="1609" y="786" width="114" height="10"/>
  <rect x="1572" y="340" width="11" height="115"/><rect x="1572" y="824" width="10" height="114"/>
  <rect x="1716" y="796" width="7" height="121"/>
  <rect x="1609" y="293" width="126" height="7"/><rect x="1723" y="289" width="13" height="30"/>
  <rect x="1609" y="312" width="10" height="71"/><rect x="1609" y="312" width="126" height="7"/>
  <rect x="1658" y="319" width="9" height="64"/><rect x="1609" y="373" width="15" height="10"/><rect x="1652" y="373" width="15" height="10"/>
  <rect x="1744" y="329" width="30" height="13"/><rect x="1744" y="329" width="9" height="126"/><rect x="1763" y="342" width="9" height="113"/>
  <rect x="1681" y="397" width="72" height="6"/><rect x="1681" y="397" width="9" height="17"/><rect x="1681" y="437" width="9" height="18"/><rect x="1681" y="447" width="72" height="8"/>
  <rect x="1368" y="340" width="13" height="12"/><rect x="1368" y="443" width="13" height="12"/>
  <rect x="1468" y="340" width="13" height="12"/><rect x="1468" y="443" width="13" height="12"/>
  <rect x="1368" y="824" width="13" height="12"/><rect x="1368" y="925" width="13" height="12"/>
  <rect x="1468" y="824" width="13" height="12"/><rect x="1468" y="925" width="13" height="12"/>
  <rect x="1609" y="583" width="13" height="13"/><rect x="1711" y="583" width="13" height="13"/>
  <rect x="1609" y="684" width="13" height="13"/><rect x="1711" y="684" width="13" height="13"/>
  <rect x="1297" y="513" width="25" height="10"/><rect x="1297" y="513" width="11" height="24"/>
  <rect x="1527" y="513" width="25" height="10"/><rect x="1542" y="513" width="11" height="24"/>
  <rect x="1297" y="755" width="25" height="10"/><rect x="1297" y="741" width="11" height="24"/>
  <rect x="1527" y="755" width="25" height="10"/><rect x="1542" y="741" width="11" height="24"/>
</g>
<g fill="none" stroke="#000" stroke-linecap="butt">
  <line x1="1118" y1="234" x2="1087" y2="263" stroke-width="9"/>
  <line x1="1043" y1="301" x2="1015" y2="329" stroke-width="9"/>
  <line x1="1733" y1="235" x2="1833" y2="330" stroke-width="9"/>
  <line x1="1015" y1="950" x2="1113" y2="1045" stroke-width="9"/>
  <line x1="1833" y1="950" x2="1803" y2="977" stroke-width="9"/>
  <line x1="1765" y1="1017" x2="1733" y2="1046" stroke-width="9"/>
  <polyline points="1278,344 1146,344 1173,370 1270,370" stroke-width="8"/>
  <polyline points="1129,493 1129,363 1157,390 1157,488" stroke-width="10"/>
  <polyline points="1112,619 1083,640 1112,661" stroke-width="12"/>
  <line x1="1130" y1="912" x2="1105" y2="935" stroke-width="10"/>
  <polyline points="1120,985 1120,962 1147,934 1278,934" stroke-width="9"/>
  <polyline points="1577,934 1703,934 1676,909 1582,909" stroke-width="8"/>
  <polyline points="1693,795 1693,887 1720,913" stroke-width="9"/>
  <line x1="1277" y1="494" x2="1306" y2="523" stroke-width="11"/>
  <line x1="1573" y1="494" x2="1544" y2="523" stroke-width="11"/>
  <line x1="1280" y1="788" x2="1308" y2="759" stroke-width="11"/>
  <line x1="1570" y1="788" x2="1542" y2="759" stroke-width="11"/>
</g>
<g stroke="#555" stroke-width="1">
  <line x1="1087" y1="263" x2="1043" y2="301"/><line x1="1084" y1="260" x2="1040" y2="298"/><line x1="1090" y1="266" x2="1046" y2="304"/>
  <line x1="1803" y1="977" x2="1765" y2="1017"/><line x1="1800" y1="974" x2="1762" y2="1014"/><line x1="1806" y1="980" x2="1768" y2="1020"/>
</g>
</svg>
</body></html>
